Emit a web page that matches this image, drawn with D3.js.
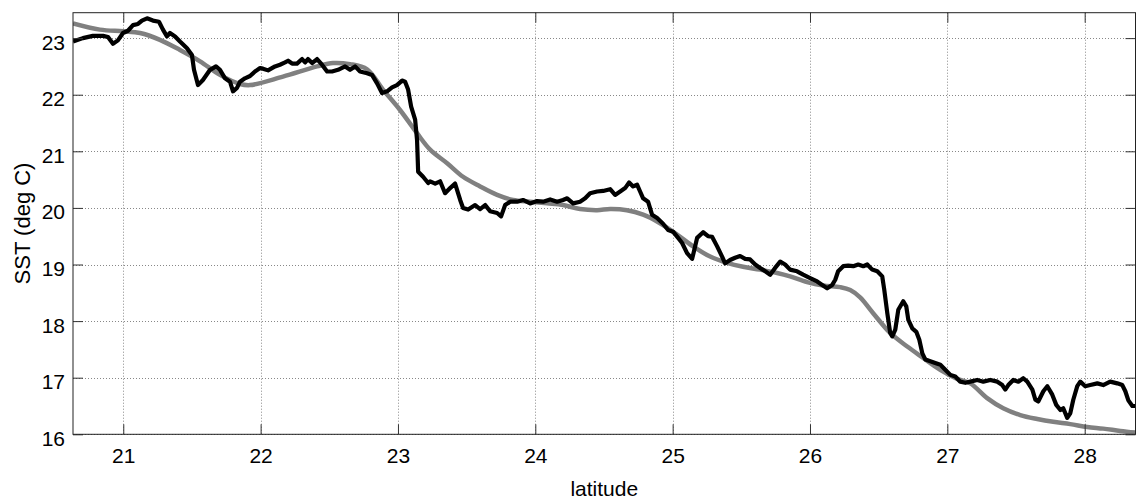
<!DOCTYPE html>
<html>
<head>
<meta charset="utf-8">
<script src="https://cdn.jsdelivr.net/npm/d3@7"></script>
<style>
  html, body { margin: 0; padding: 0; background: #fff; }
  svg { display: block; }
  text { font-family: "Liberation Sans", Arial, Helvetica, sans-serif; fill: #000; }
</style>
</head>
<body>
<svg id="chart" width="1136" height="500"></svg>
<script>
// ---------- data ----------
const xTicks = [21, 22, 23, 24, 25, 26, 27, 28];
const yTicks = [16, 17, 18, 19, 20, 21, 22, 23];
const xLabel = "latitude";
const yLabel = "SST (deg C)";

// smoothed (gray) series
const smoothLat = [20.634, 20.830, 21.0, 21.122, 21.267, 21.413, 21.559, 21.704, 21.850, 21.923,
  22.163, 22.411, 22.527, 22.651, 22.775, 22.891, 23.015, 23.139, 23.234, 23.358, 23.474,
  23.598, 23.722, 23.838, 23.962, 24.086, 24.202, 24.326, 24.450, 24.545, 24.667, 24.785,
  24.908, 25.032, 25.149, 25.273, 25.396, 25.513, 25.637, 25.761, 25.855, 25.979, 26.096,
  26.220, 26.293, 26.365, 26.460, 26.584, 26.708, 26.824, 26.948, 27.072, 27.167, 27.290,
  27.407, 27.531, 27.655, 27.771, 27.895, 28.019, 28.135, 28.259, 28.368];
const smoothSST = [23.26, 23.15, 23.12, 23.09, 22.97, 22.79, 22.59, 22.35, 22.19, 22.17,
  22.32, 22.50, 22.56, 22.54, 22.45, 22.09, 21.73, 21.32, 21.03, 20.79, 20.55,
  20.38, 20.23, 20.14, 20.11, 20.08, 20.05, 19.98, 19.96, 19.98, 19.96, 19.88,
  19.73, 19.53, 19.32, 19.14, 19.03, 18.96, 18.91, 18.85, 18.79, 18.69, 18.63,
  18.60, 18.55, 18.42, 18.14, 17.79, 17.55, 17.35, 17.14, 16.98, 16.90, 16.64,
  16.46, 16.34, 16.27, 16.22, 16.18, 16.13, 16.10, 16.06, 16.03];

// measured (black) series
const obsLat = [20.634, 20.706, 20.779, 20.852, 20.889, 20.925, 20.961, 20.998, 21.034, 21.071,
  21.107, 21.136, 21.173, 21.216, 21.260, 21.289, 21.318, 21.340, 21.377, 21.413, 21.464,
  21.500, 21.515, 21.544, 21.580, 21.632, 21.675, 21.704, 21.741, 21.777, 21.799, 21.828,
  21.850, 21.886, 21.923,
  21.959, 21.996, 22.017, 22.054, 22.105, 22.141, 22.178, 22.200, 22.229, 22.265, 22.302,
  22.324, 22.345, 22.375, 22.411, 22.447, 22.484, 22.520, 22.564, 22.615, 22.651, 22.688,
  22.724, 22.775, 22.811, 22.848, 22.884, 22.921, 22.957, 22.993, 23.030, 23.052, 23.074,
  23.096, 23.125, 23.139, 23.147, 23.183, 23.220,
  23.234, 23.271, 23.307, 23.343, 23.380, 23.416, 23.453, 23.474, 23.511, 23.562, 23.598,
  23.635, 23.671, 23.722, 23.751, 23.780, 23.817, 23.868, 23.911, 23.962, 24.013, 24.057,
  24.108, 24.159, 24.202, 24.232, 24.275, 24.326, 24.363, 24.399, 24.450, 24.494,
  24.545, 24.581, 24.618, 24.654, 24.683, 24.712, 24.741, 24.763, 24.785, 24.821, 24.850,
  24.887, 24.930, 24.967, 25.003, 25.040, 25.069, 25.105, 25.142, 25.178, 25.222, 25.258,
  25.287, 25.324, 25.360, 25.382, 25.418, 25.455, 25.491, 25.528, 25.564, 25.601, 25.637,
  25.674, 25.710, 25.746, 25.783, 25.819,
  25.855, 25.906, 25.950, 26.001, 26.052, 26.089, 26.125, 26.162, 26.184, 26.205, 26.242,
  26.278, 26.315, 26.351, 26.388, 26.417, 26.453, 26.490, 26.526, 26.541, 26.563, 26.584,
  26.599, 26.621, 26.643, 26.679, 26.701, 26.716, 26.745, 26.774, 26.796, 26.818, 26.840,
  26.876, 26.912, 26.949, 26.985, 27.022, 27.058, 27.094, 27.131,
  27.167, 27.218, 27.262, 27.313, 27.364, 27.400, 27.422, 27.444, 27.480, 27.517, 27.553,
  27.582, 27.619, 27.641, 27.662, 27.699, 27.728, 27.764, 27.793, 27.823, 27.844, 27.873,
  27.895, 27.917, 27.946, 27.968, 28.004, 28.041, 28.092, 28.135, 28.186, 28.237, 28.274,
  28.296, 28.318, 28.347, 28.368];
const obsSST = [22.94, 23.00, 23.04, 23.04, 23.02, 22.90, 22.96, 23.09, 23.13, 23.23,
  23.25, 23.31, 23.35, 23.31, 23.29, 23.15, 23.03, 23.09, 23.03, 22.94, 22.82,
  22.70, 22.44, 22.17, 22.26, 22.44, 22.50, 22.44, 22.29, 22.23, 22.06, 22.12,
  22.23, 22.29, 22.33,
  22.41, 22.47, 22.46, 22.43, 22.50, 22.53, 22.57, 22.60, 22.55, 22.55, 22.63,
  22.57, 22.63, 22.56, 22.63, 22.53, 22.41, 22.41, 22.44, 22.50, 22.44, 22.50,
  22.41, 22.38, 22.35, 22.20, 22.03, 22.06, 22.13, 22.17, 22.25, 22.23, 22.09,
  21.79, 21.56, 21.20, 20.64, 20.55, 20.44,
  20.47, 20.43, 20.47, 20.26, 20.35, 20.43, 20.14, 20.00, 19.97, 20.05, 19.98,
  20.05, 19.94, 19.91, 19.85, 20.05, 20.11, 20.11, 20.14, 20.08, 20.12, 20.11,
  20.15, 20.11, 20.14, 20.17, 20.08, 20.11, 20.17, 20.26, 20.29, 20.30,
  20.33, 20.23, 20.29, 20.35, 20.45, 20.38, 20.41, 20.29, 20.17, 20.11, 19.88,
  19.82, 19.72, 19.61, 19.58, 19.47, 19.38, 19.20, 19.10, 19.47, 19.57, 19.50,
  19.49, 19.32, 19.14, 19.02, 19.08, 19.12, 19.15, 19.10, 19.09, 19.00, 18.94,
  18.88, 18.82, 18.94, 19.05, 19.00,
  18.91, 18.88, 18.82, 18.76, 18.70, 18.64, 18.58, 18.64, 18.73, 18.88, 18.97,
  18.98, 18.97, 19.00, 18.97, 19.00, 18.91, 18.88, 18.79, 18.55, 18.14, 17.79,
  17.73, 17.85, 18.20, 18.35, 18.26, 18.02, 17.87, 17.81, 17.67, 17.43, 17.32,
  17.29, 17.26, 17.23, 17.14, 17.05, 17.02, 16.93, 16.91,
  16.93, 16.96, 16.93, 16.96, 16.93, 16.87, 16.79, 16.87, 16.96, 16.93, 16.99,
  16.93, 16.79, 16.61, 16.58, 16.76, 16.85, 16.70, 16.52, 16.43, 16.46, 16.29,
  16.37, 16.61, 16.85, 16.93, 16.85, 16.87, 16.90, 16.87, 16.93, 16.90, 16.87,
  16.76, 16.60, 16.50, 16.50];

// ---------- layout ----------
const L = 73, R = 1135.5, T = 12.7, B = 434.3;
const x = d3.scaleLinear().domain([20.634, 28.37]).range([L, R]);
const y = d3.scaleLinear().domain([16, 23.449]).range([B, T]);

const svg = d3.select("#chart");

// grid (dotted)
const grid = svg.append("g");
grid.selectAll("line.vg").data(xTicks).join("line")
  .attr("x1", d => Math.round(x(d)) + 0.5).attr("x2", d => Math.round(x(d)) + 0.5)
  .attr("y1", T).attr("y2", B)
  .attr("stroke", "#888").attr("stroke-width", 1).attr("stroke-dasharray", "1,2");
grid.selectAll("line.hg").data(yTicks).join("line")
  .attr("y1", d => Math.round(y(d)) + 0.5).attr("y2", d => Math.round(y(d)) + 0.5)
  .attr("x1", L).attr("x2", R)
  .attr("stroke", "#888").attr("stroke-width", 1).attr("stroke-dasharray", "1,2");

// clip
svg.append("clipPath").attr("id", "clip").append("rect")
  .attr("x", L).attr("y", T).attr("width", R - L).attr("height", B - T);

const plot = svg.append("g").attr("clip-path", "url(#clip)");

const smoothData = smoothLat.map((d, i) => [d, smoothSST[i]]);
const obsData = obsLat.map((d, i) => [d, obsSST[i]]);

plot.append("path").datum(smoothData)
  .attr("fill", "none").attr("stroke", "#808080").attr("stroke-width", 4.5)
  .attr("stroke-linejoin", "round")
  .attr("d", d3.line().x(d => x(d[0])).y(d => y(d[1])).curve(d3.curveCatmullRom.alpha(0.5)));

plot.append("path").datum(obsData)
  .attr("fill", "none").attr("stroke", "#000").attr("stroke-width", 4.2)
  .attr("stroke-linejoin", "round")
  .attr("d", d3.line().x(d => x(d[0])).y(d => y(d[1])));

// axes (ticks inward, MATLAB style)
const tickLen = 10;
const axL = d3.axisLeft(y).tickValues(yTicks).tickSize(-tickLen).tickPadding(8).tickFormat(d3.format("d"));
const axR = d3.axisRight(y).tickValues(yTicks).tickSize(-tickLen).tickFormat("");
const axB = d3.axisBottom(x).tickValues(xTicks).tickSize(-tickLen).tickPadding(8).tickFormat(d3.format("d"));
const axT = d3.axisTop(x).tickValues(xTicks).tickSize(-tickLen).tickFormat("");

function style(g) {
  g.select(".domain").remove();
  g.selectAll(".tick line").attr("stroke", "#333").attr("stroke-width", 1);
  g.selectAll("text").attr("font-size", 21).attr("font-family", null).attr("fill", "#000");
}
const gL = svg.append("g").attr("transform", `translate(${L},0)`).call(axL).call(style);
gL.selectAll("text").attr("dy", null).attr("x", -8).attr("y", 11);
svg.append("g").attr("transform", `translate(${R},0)`).call(axR).call(style);
const gB = svg.append("g").attr("transform", `translate(0,${B})`).call(axB).call(style);
gB.selectAll("text").attr("dy", null).attr("y", 29);
svg.append("g").attr("transform", `translate(0,${T})`).call(axT).call(style);

// box
svg.append("rect").attr("x", L).attr("y", T).attr("width", R - L).attr("height", B - T)
  .attr("fill", "none").attr("stroke", "#222").attr("stroke-width", 1);

// labels
svg.append("text").attr("x", (L + R) / 2).attr("y", 496)
  .attr("text-anchor", "middle").attr("font-size", 21).text(xLabel);
svg.append("text").attr("transform", `translate(30,${(T + B) / 2}) rotate(-90)`)
  .attr("text-anchor", "middle").attr("font-size", 22).text(yLabel);
</script>
</body>
</html>
